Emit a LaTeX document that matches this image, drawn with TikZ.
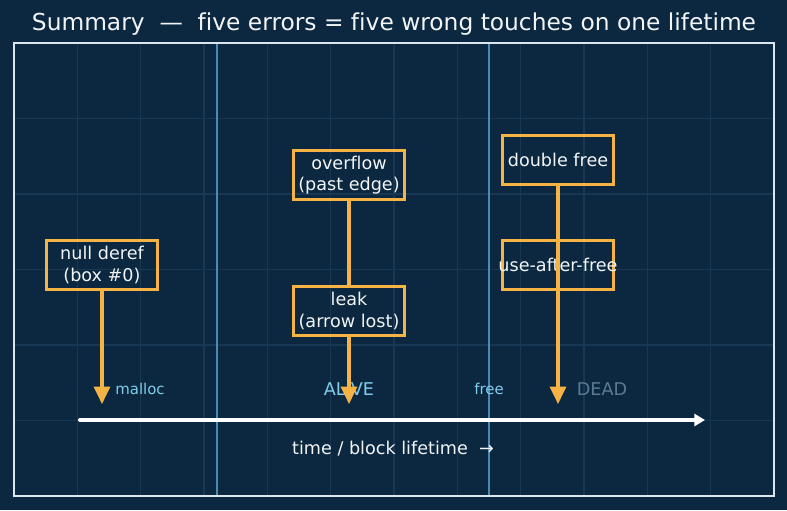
\documentclass[tikz,border=0pt]{standalone}
\usepackage{fontspec}
\setmainfont{DejaVu Sans}[Ligatures={NoCommon}]
\usetikzlibrary{arrows.meta}
\definecolor{bg}{HTML}{0B2840}
\definecolor{gridc}{HTML}{183753}
\definecolor{frame}{HTML}{DCE6EE}
\definecolor{phase}{HTML}{4F88B5}
\definecolor{errc}{HTML}{F5B245}
\definecolor{lblue}{HTML}{7FCDEB}
\definecolor{deadc}{HTML}{5C7A8E}
\definecolor{txt}{HTML}{F2F4F6}
\tikzset{
  errbox/.style={draw=errc, line width=2.4pt, minimum width=83pt, minimum height=37pt, align=center, text=txt, font=\fontsize{13.2}{15.8}\selectfont, inner sep=1pt},
  hit/.style={draw=errc, line width=2.3pt, -{Triangle[length=13pt,width=12pt]}},
  link/.style={draw=errc, line width=2.3pt},
  small/.style={text=lblue, font=\fontsize{11.2}{13}\selectfont},
  phaselbl/.style={font=\fontsize{13.2}{15}\selectfont},
  gridline/.style={draw=gridc, line width=0.8pt},
  phaseline/.style={draw=phase, line width=1.2pt},
}
\begin{document}
\begin{tikzpicture}[x=0.75pt, y=-0.75pt]
\useasboundingbox[fill=bg] (0,0) rectangle (787,510);
% grid
\foreach \k in {1,...,11} \draw[gridline] ({14+63.333*\k},43) -- ({14+63.333*\k},496);
\foreach \k in {1,...,5} \draw[gridline] (14,{43+75.5*\k}) -- (774,{43+75.5*\k});
% phase lines
\draw[phaseline] (217,43) -- (217,496);
\draw[phaseline] (489,43) -- (489,496);
% frame
\draw[frame, line width=0.8pt] (14,43) rectangle (774,496);
% title
\node[text=txt, font=\fontsize{17.5}{21}\selectfont] (title) at (394,24) {Summary \ — \ five errors = five wrong touches on one lifetime};
% timeline
\coordinate (t0) at (80,420);
\coordinate (t1) at (705,420);
\draw[white, line width=3pt, line cap=round, -{Triangle[length=8pt,width=9pt]}] (t0) -- (t1);
\node[text=txt, phaselbl] (tl) at (393,449) {time / block lifetime \ →};
% labels
\node[small] (malloc) at (140,389) {malloc};
\node[small] (free) at (489,389) {free};
\node[text=lblue, phaselbl] (alive) at (349,389) {ALIVE};
\node[text=deadc, phaselbl] (dead) at (602,389) {DEAD};
% boxes
\node[errbox] (null) at (102,265) {null deref\\(box \#0)};
\node[errbox] (over) at (349,175) {overflow\\(past edge)};
\node[errbox] (leak) at (349,311) {leak\\(arrow lost)};
\node[errbox] (dbl) at (558,160) {double free};
\node[errbox] (uaf) at (558,265) {\makebox[0pt][c]{use-after-free}};
% tips
\coordinate (p1) at (102,404);
\coordinate (p2) at (349,404);
\coordinate (p3) at (558,404);
\draw[hit] (null.south) -- (p1);
\draw[link] (over.south) -- (leak.north);
\draw[hit] (leak.south) -- (p2);
\draw[hit] (dbl.south) -- (p3);
\end{tikzpicture}
\end{document}
